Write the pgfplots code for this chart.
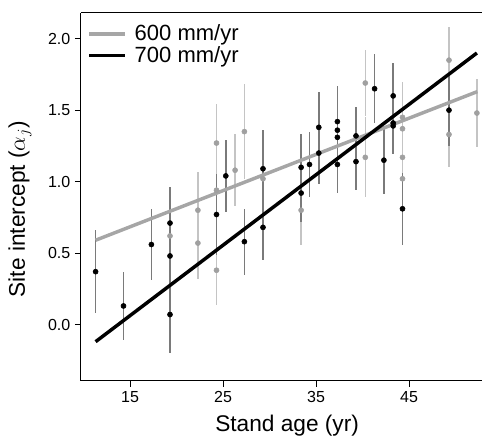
\documentclass[border=0pt]{standalone}
\usepackage{fontspec}
\setmainfont{Liberation Sans}
\usepackage{pgfplots}
\pgfplotsset{compat=1.18}

\definecolor{gline}{HTML}{A6A6A6}
\definecolor{gpt}{HTML}{A0A0A0}
\definecolor{dbar}{HTML}{7A7A7A}
\definecolor{lbar}{HTML}{C4C4C4}

% stand age, site intercept, half-width of interval
\pgfplotstableread{
x y e
11.3 0.37 0.29
14.3 0.13 0.24
17.3 0.56 0.25
19.3 0.71 0.25
19.3 0.48 0.28
19.3 0.07 0.27
24.3 0.77 0.28
25.3 1.04 0.25
27.3 0.58 0.23
29.3 1.09 0.27
29.3 0.68 0.23
33.4 0.92 0.20
33.4 1.10 0.23
34.3 1.12 0.23
35.3 1.20 0.22
35.3 1.38 0.25
37.3 1.42 0.25
37.3 1.36 0.20
37.3 1.31 0.20
37.3 1.12 0.20
39.3 1.32 0.20
39.3 1.14 0.20
41.3 1.65 0.24
42.3 1.15 0.24
43.3 1.60 0.23
43.3 1.41 0.20
43.3 1.39 0.20
44.3 0.81 0.25
49.3 1.50 0.25
}\sevenhundred

\pgfplotstableread{
x y e
19.3 0.62 0.20
22.3 0.80 0.27
22.3 0.57 0.25
24.3 0.38 0.24
24.3 1.27 0.27
24.3 0.94 0.25
26.3 1.08 0.25
27.3 1.35 0.33
29.3 1.02 0.25
33.4 0.80 0.24
40.3 1.69 0.23
40.3 1.17 0.28
44.3 1.45 0.25
44.3 1.37 0.20
44.3 1.17 0.25
44.3 1.02 0.25
49.3 1.85 0.23
49.3 1.33 0.23
52.3 1.48 0.24
}\sixhundred

\begin{document}
\begin{tikzpicture}
\begin{axis}[
  name=ax, at={(0,0)}, anchor=south west,
  scale only axis, width=300.75pt, height=276pt,
  xmin=9.73, xmax=52.85, ymin=-0.395, ymax=2.18,
  axis lines*=left, axis line style={-, line width=0.75pt},
  xtick={15,25,35,45}, ytick={0,0.5,1,1.5,2},
  yticklabel style={/pgf/number format/.cd, fixed, fixed zerofill, precision=1},
  /pgf/number format/assume math mode=true,
  tick align=outside, major tick length=4.5pt,
  tick style={line width=0.75pt, black},
  ticklabel style={font=\fontsize{12}{14}\selectfont},
  xlabel={Stand age (yr)}, ylabel={Site intercept ($\alpha_j$)},
  label style={font=\fontsize{17}{20}\selectfont},
  xlabel style={at={(axis description cs:0.514,-0.12)}, anchor=center},
  ylabel style={at={(axis description cs:-0.152,0.467)}, anchor=center},
  legend style={at={(axis description cs:0.005,0.983)}, anchor=north west,
    draw=none, fill=none, font=\fontsize{16.5}{18}\selectfont, row sep=-1pt},
  legend cell align=left,
  legend image code/.code={\draw[#1] (0pt,0pt) -- (27pt,0pt); \path (31pt,0pt);},
]
\addplot[lbar, line width=1.1pt, forget plot, draw=none,
  error bars/.cd, y dir=both, y explicit, error mark=none,
  error bar style={lbar, line width=1.1pt}]
  table[x=x, y=y, y error=e] {\sixhundred};
\addplot[dbar, line width=1.1pt, forget plot, draw=none,
  error bars/.cd, y dir=both, y explicit, error mark=none,
  error bar style={dbar, line width=1.1pt}]
  table[x=x, y=y, y error=e] {\sevenhundred};

\addplot[gline, line width=2.6pt] coordinates {(11.3,0.59) (52.35,1.63)};
\addlegendentry{600 mm/yr}
\addplot[black, line width=2.6pt] coordinates {(11.3,-0.12) (52.3,1.90)};
\addlegendentry{700 mm/yr}

\addplot[only marks, mark=*, mark size=1.9pt, gpt, forget plot]
  table[x=x, y=y] {\sixhundred};
\addplot[only marks, mark=*, mark size=1.9pt, black, forget plot]
  table[x=x, y=y] {\sevenhundred};
\end{axis}
\draw[line width=0.75pt] (ax.north west) -- (ax.north east);
\pgfresetboundingbox
\path[use as bounding box] (-60.75pt,-42.75pt) rectangle (300.75pt,285.75pt);
\end{tikzpicture}
\end{document}
